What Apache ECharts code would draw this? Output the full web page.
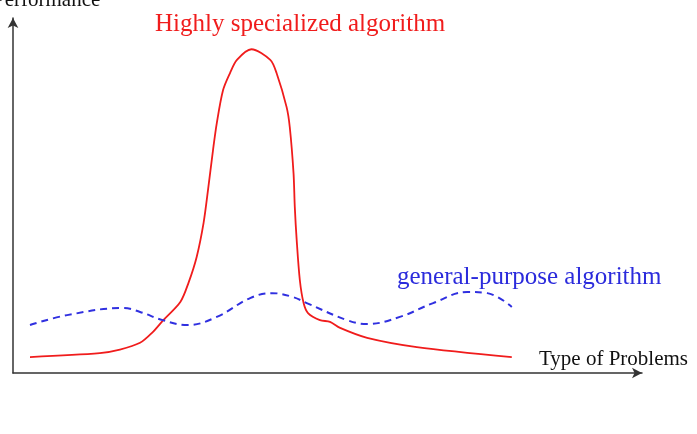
<!DOCTYPE html>
<html>
<head>
<meta charset="utf-8">
<script src="https://cdn.jsdelivr.net/npm/echarts@6/dist/echarts.min.js"></script>
<style>
  html, body { margin: 0; padding: 0; background: #fff; }
  #chart { width: 697px; height: 434px; }
</style>
</head>
<body>
<div id="chart"></div>
<script>
// curve points, [problem type, performance], both 0..100
const specializedX = [2.7, 13.8, 17.0, 20.2, 22.1, 23.9, 26.6, 27.9, 29.2, 30.3, 31.0, 31.8, 32.4, 33.4, 34.5, 35.6, 37.9, 40.9, 41.9, 43.5, 44.0, 44.6, 44.8, 45.1, 45.6, 46.2, 46.9, 48.8, 50.4, 52.0, 56.3, 64.2, 79.3]
const specializedY = [4.5, 5.6, 6.6, 8.5, 11.3, 14.9, 20.0, 25.4, 32.7, 42.3, 51.5, 62.8, 70.4, 79.7, 84.5, 88.2, 91.2, 88.2, 84.5, 74.9, 69.3, 56.3, 46.8, 37.5, 26.2, 19.7, 16.9, 14.9, 14.4, 12.7, 9.9, 7.3, 4.5]
const generalX = [2.7, 8.6, 17.5, 20.2, 23.8, 27.7, 32.4, 37.7, 41.2, 44.5, 46.7, 53.1, 56.3, 61.5, 66.8, 72.2, 75.4, 79.3]
const generalY = [13.5, 16.3, 18.3, 17.2, 14.9, 13.5, 15.8, 21.1, 22.5, 21.4, 19.7, 14.9, 13.8, 15.8, 19.7, 22.8, 22.5, 18.6]

const zip = (xs, ys) => xs.map((x, i) => [x, ys[i]])

const chart = echarts.init(document.getElementById('chart'))
const serif = 'Liberation Serif'
const axisLine = {
  show: true,
  onZero: false,
  symbol: ['none', 'arrow'],
  symbolSize: [8, 10],
  lineStyle: { color: '#333', width: 1.5 }
}

chart.setOption({
  animation: false,
  grid: { left: 13, right: 55, top: 18, bottom: 61 },
  xAxis: {
    type: 'value', min: 0, max: 100,
    axisLine: axisLine,
    axisTick: { show: false }, axisLabel: { show: false }, splitLine: { show: false }
  },
  yAxis: {
    type: 'value', min: 0, max: 100,
    axisLine: axisLine,
    axisTick: { show: false }, axisLabel: { show: false }, splitLine: { show: false }
  },
  graphic: [
    { type: 'text', left: -7, top: -10, style: { text: 'Performance', fontFamily: serif, fontSize: 21, fill: '#111' } },
    { type: 'text', left: 539, top: 349, style: { text: 'Type of Problems', fontFamily: serif, fontSize: 21, fill: '#111' } },
    { type: 'text', left: 155, top: 12, style: { text: 'Highly specialized algorithm', fontFamily: serif, fontSize: 25, fill: '#f01c1c' } },
    { type: 'text', left: 397, top: 265, style: { text: 'general-purpose algorithm', fontFamily: serif, fontSize: 25, fill: '#2b2bdc' } }
  ],
  series: [
    {
      name: 'Highly specialized algorithm',
      type: 'line',
      data: zip(specializedX, specializedY),
      smooth: 0.3,
      showSymbol: false,
      lineStyle: { color: '#f01c1c', width: 1.8 }
    },
    {
      name: 'general-purpose algorithm',
      type: 'line',
      data: zip(generalX, generalY),
      smooth: 0.4,
      showSymbol: false,
      lineStyle: { color: '#3030e0', width: 2, type: [7, 5] }
    }
  ]
})
</script>
</body>
</html>
